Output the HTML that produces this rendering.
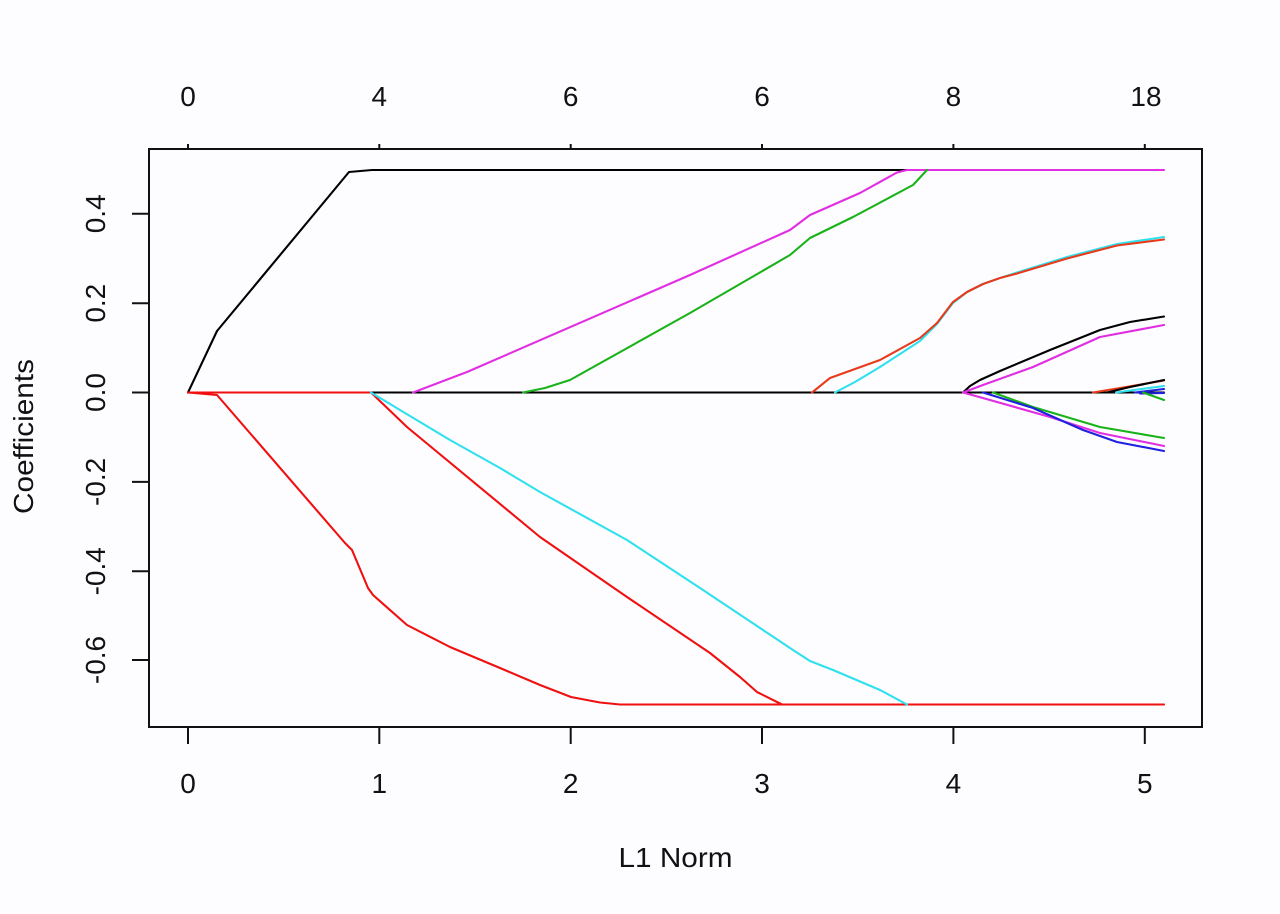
<!DOCTYPE html>
<html>
<head>
<meta charset="utf-8">
<style>
html,body{margin:0;padding:0;background:#fdfdff;}
svg{display:block;}
text{font-family:"Liberation Sans",Arial,sans-serif;fill:#111;}
</style>
</head>
<body>
<svg width="1280" height="914" viewBox="0 0 1280 914" xmlns="http://www.w3.org/2000/svg">
<rect x="0" y="0" width="1280" height="914" fill="#fdfdff"/>

<g fill="none" stroke-width="2.1" stroke-linejoin="round" stroke-linecap="round">
  <!-- black main -->
  <path d="M188,392.5 L217,331 L349,172 L372,170 L910,170" stroke="#000"/>
  <!-- red on zero then down -->
  <path d="M188,392.5 L371,392.5 L407,427 L540,537 L627,597 L710,653 L740,677 L757,692 L782,704.5" stroke="#f01010"/>
  <!-- red1 -->
  <path d="M188,392.5 L217,395 L345,543 L352,550 L368,588 L373,595 L407,625 L450,647 L500,668 L540,685 L571,697 L600,702.5 L620,704.5 L1164,704.5" stroke="#f01010"/>
  <!-- black zero -->
  <path d="M371,392.5 L1164,392.5" stroke="#000"/>
  <!-- cyan1 -->
  <path d="M371,392.5 L400,410 L450,440 L500,468 L540,492 L627,540 L700,588 L760,628 L793,650 L810,661 L833,670 L880,690 L907,704.5" stroke="#2fe0ee"/>
  <!-- magenta1 -->
  <path d="M413,392.5 L467,372 L690,275 L790,230 L810,215 L860,193 L897,172.5 L907,170 L1164,170" stroke="#e22ee2"/>
  <!-- green1 -->
  <path d="M523,392.5 L545,388 L570,380 L690,313 L790,255 L810,238 L853,217 L913,185 L927,170" stroke="#19b219"/>
  <!-- cyan3 -->
  <path d="M835,392.5 L855,382 L880,367 L920,341 L937,324 L953,303 L967,292 L983,284 L1000,278 L1017,272.5 L1067,257 L1117,244 L1164,237" stroke="#2fe0ee"/>
  <!-- red3 -->
  <path d="M812,392.5 L830,378 L855,369 L880,360 L920,338 L937,323 L953,302 L967,292 L983,284 L1000,278 L1017,273.5 L1067,258.5 L1117,245.5 L1164,239.5" stroke="#e83a1a"/>
  <!-- black2 -->
  <path d="M963,392.5 L970,386 L980,380 L1000,371 L1050,350 L1100,330 L1130,322 L1164,316.5" stroke="#000"/>
  <!-- magenta2 -->
  <path d="M963,392.5 L983,385 L1033,367 L1100,337 L1164,325" stroke="#e22ee2"/>
  <!-- green2 -->
  <path d="M993,392.5 L1033,407 L1100,427 L1164,438" stroke="#19b219"/>
  <!-- magenta3 -->
  <path d="M963,392.5 L990,400 L1050,417 L1100,433 L1164,446" stroke="#e22ee2"/>
  <!-- blue1 -->
  <path d="M983,392.5 L1033,408 L1083,430 L1117,442 L1164,451" stroke="#2020e0"/>
  <!-- small ones -->
  <path d="M1093,392.5 L1120,388 L1164,380.5" stroke="#e83a1a"/>
  <path d="M1107,392.5 L1130,387 L1164,380" stroke="#000"/>
  <path d="M1116,392.5 L1164,386" stroke="#2fe0ee"/>
  <path d="M1135,392.5 L1164,389" stroke="#2020e0"/>
  <path d="M1140,393.5 L1164,393" stroke="#2020e0"/>
  <path d="M1143,392.5 L1164,400" stroke="#19b219"/>
</g>

<!-- box -->
<rect x="149" y="149" width="1053" height="578" fill="none" stroke="#111" stroke-width="2"/>

<g stroke="#111" stroke-width="2">
  <line x1="188" y1="727" x2="188" y2="744"/>
  <line x1="379.3" y1="727" x2="379.3" y2="744"/>
  <line x1="570.7" y1="727" x2="570.7" y2="744"/>
  <line x1="762" y1="727" x2="762" y2="744"/>
  <line x1="953.4" y1="727" x2="953.4" y2="744"/>
  <line x1="1144.8" y1="727" x2="1144.8" y2="744"/>
  <line x1="188" y1="149" x2="188" y2="144"/>
  <line x1="379.3" y1="149" x2="379.3" y2="144"/>
  <line x1="570.7" y1="149" x2="570.7" y2="144"/>
  <line x1="762" y1="149" x2="762" y2="144"/>
  <line x1="953.4" y1="149" x2="953.4" y2="144"/>
  <line x1="1144.8" y1="149" x2="1144.8" y2="144"/>
  <line x1="132" y1="660" x2="149" y2="660"/>
  <line x1="132" y1="571.3" x2="149" y2="571.3"/>
  <line x1="132" y1="481.9" x2="149" y2="481.9"/>
  <line x1="132" y1="392.5" x2="149" y2="392.5"/>
  <line x1="132" y1="303.2" x2="149" y2="303.2"/>
  <line x1="132" y1="213.8" x2="149" y2="213.8"/>
</g>

<g font-size="28" text-anchor="middle">
  <text x="188" y="793">0</text>
  <text x="379.3" y="793">1</text>
  <text x="570.7" y="793">2</text>
  <text x="762" y="793">3</text>
  <text x="953.4" y="793">4</text>
  <text x="1144.8" y="793">5</text>
  <text x="188" y="106">0</text>
  <text x="379.3" y="106">4</text>
  <text x="570.7" y="106">6</text>
  <text x="762" y="106">6</text>
  <text x="953.4" y="106">8</text>
  <text x="1146" y="106">18</text>
  <text transform="translate(105,660) rotate(-90)">-0.6</text>
  <text transform="translate(105,571.3) rotate(-90)">-0.4</text>
  <text transform="translate(105,481.9) rotate(-90)">-0.2</text>
  <text transform="translate(105,392.5) rotate(-90)">0.0</text>
  <text transform="translate(105,303.2) rotate(-90)">0.2</text>
  <text transform="translate(105,213.8) rotate(-90)">0.4</text>
  <text x="675.5" y="867" textLength="114" lengthAdjust="spacingAndGlyphs">L1 Norm</text>
  <text transform="translate(33,436.5) rotate(-90)" textLength="155" lengthAdjust="spacingAndGlyphs">Coefficients</text>
</g>
</svg>
</body>
</html>
